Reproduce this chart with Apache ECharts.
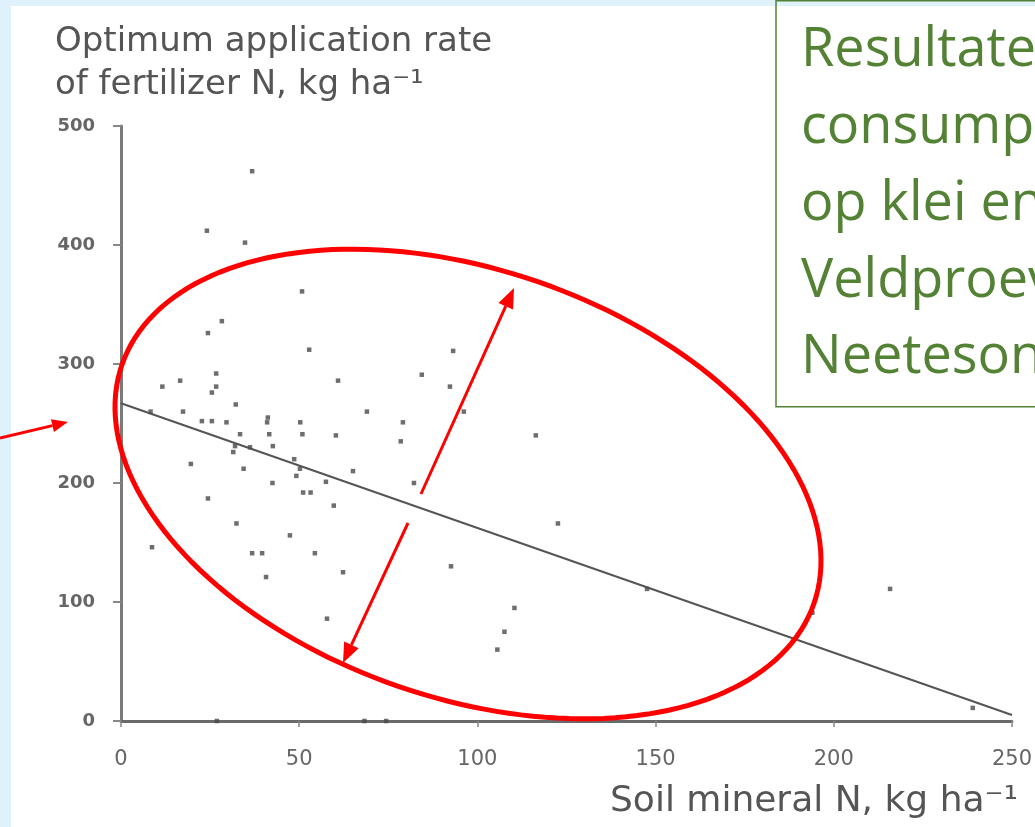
<!DOCTYPE html>
<html><head><meta charset="utf-8">
<script src="https://cdn.jsdelivr.net/npm/echarts@6/dist/echarts.min.js"></script>
<style>html,body{margin:0;padding:0;background:#dff1fb}#c{width:1035px;height:827px}</style>
</head><body><div id="c"></div>
<script>
// ---- data ----
const soilN = [36.8,24.1,34.8,50.8,28.3,24.4,52.8,93.2,11.6,16.6,26.7,26.7,25.5,60.9,84.4,92.3,32.2,69,96.2,17.4,8.3,22.7,25.5,29.6,41.2,41,50.3,79.1,33.4,41.6,50.9,60.3,78.5,32,36.2,31.5,42.6,48.6,50.2,49.2,19.6,34.4,42.5,57.5,65.1,82.2,51.1,53.2,59.7,24.4,32.4,47.4,8.7,36.8,39.6,54.4,62.3,92.6,40.7,57.8,110.4,107.6,105.6,116.4,122.6,215.8,194,239,147.6,26.9,68.3,74.4];
const optN  = [462,412,402,361,336,326,312,311,281,286,292,281,276,286,291,281,266,260,260,260,260,252,252,251,255,251,251,251,241,241,241,240,235,231,230,226,231,220,212,206,216,212,200,201,210,200,192,192,181,187,166,156,146,141,141,141,125,130,121,86,95,75,60,240,166,111,91,11,111,0,0,0];
const fitX = [0, 250];
const fitY = [267, 5];
const xTicks = [0, 50, 100, 150, 200, 250];
const yTicks = [0, 100, 200, 300, 400, 500];
const titleLines = ['Optimum application rate', 'of fertilizer N, kg ha\u207b\u00b9'];
const xName = 'Soil mineral N, kg ha\u207b\u00b9';
const boxLines = ['Resultaten', 'consumptie', 'op klei en', 'Veldproeven', 'Neeteson'];

// ---- build ----
const pts = soilN.map((x, i) => [x, optN[i]]);
const fit = fitX.map((x, i) => [x, fitY[i]]);

function arrow(x1, y1, x2, y2, L, W, color, lw) {
  const dx = x2 - x1, dy = y2 - y1, d = Math.hypot(dx, dy);
  const ux = dx / d, uy = dy / d, nx = -uy, ny = ux;
  const bx = x2 - ux * L, by = y2 - uy * L;
  return [
    {type: 'line', z: 100, shape: {x1: x1, y1: y1, x2: bx, y2: by}, style: {stroke: color, lineWidth: lw}},
    {type: 'polygon', z: 100, shape: {points: [[x2, y2], [bx + nx * W / 2, by + ny * W / 2], [bx - nx * W / 2, by - ny * W / 2]]}, style: {fill: color}}
  ];
}
function ellipsePts(cx, cy, a, b, deg) {
  const t = deg * Math.PI / 180, out = [];
  for (let k = 0; k < 180; k++) {
    const p = k / 180 * 2 * Math.PI;
    const ex = a * Math.cos(p), ey = b * Math.sin(p);
    out.push([cx + ex * Math.cos(t) - ey * Math.sin(t), cy + ex * Math.sin(t) + ey * Math.cos(t)]);
  }
  return out;
}

const FONT = '"DejaVu Sans", sans-serif';
const graphic = [
  {type: 'rect', z: -100, silent: true, shape: {x: 11, y: 6, width: 1040, height: 840}, style: {fill: '#ffffff'}},
  {type: 'rect', z: 100, shape: {x: 776, y: 0.75, width: 300, height: 406}, style: {fill: 'none', stroke: '#548235', lineWidth: 1.5}},
  {type: 'polygon', z: 100, shape: {points: ellipsePts(468, 484, 366, 214, 19)}, style: {fill: 'none', stroke: '#ff0000', lineWidth: 5}}
];
const baselines = [70, 147, 224, 301, 377];
boxLines.forEach((t, i) => {
  graphic.push({type: 'text', z: 100, x: 801, y: baselines[i] - 19,
    style: {text: t, fill: '#548235', font: '54px "Open Sans", sans-serif', verticalAlign: 'middle', align: 'left'}});
});
graphic.push(...arrow(421, 494, 514, 288, 20, 16, '#ff0000', 3));
graphic.push(...arrow(408, 523, 343, 663, 20, 16, '#ff0000', 3));
graphic.push(...arrow(0, 438, 68, 422, 16, 13, '#ff0000', 3));

const chart = echarts.init(document.getElementById('c'));
chart.setOption({
  backgroundColor: '#dff1fb',
  animation: false,
  title: [
    {text: titleLines.join('\n'), left: 50, top: 16,
     textStyle: {fontFamily: FONT, fontSize: 34, fontWeight: 'normal', color: '#555', lineHeight: 43}},
    {text: xName, left: 605, top: 779,
     textStyle: {fontFamily: FONT, fontSize: 36, fontWeight: 'normal', color: '#555', lineHeight: 36}}
  ],
  grid: {left: 121, right: 23, top: 126, bottom: 106},
  xAxis: {type: 'value', min: xTicks[0], max: xTicks[xTicks.length - 1], interval: xTicks[1] - xTicks[0],
    splitLine: {show: false},
    axisLine: {show: true, lineStyle: {color: '#6a6a6a', width: 3}},
    axisTick: {show: true, length: 6, lineStyle: {color: '#888', width: 1.5}},
    axisLabel: {fontFamily: FONT, fontSize: 21, color: '#666', margin: 28}},
  yAxis: {type: 'value', min: yTicks[0], max: yTicks[yTicks.length - 1], interval: yTicks[1] - yTicks[0],
    splitLine: {show: false},
    axisLine: {show: true, lineStyle: {color: '#7a7a7a', width: 3}},
    axisTick: {show: true, length: 8, lineStyle: {color: '#888', width: 2}},
    axisLabel: {fontFamily: FONT, fontSize: 18, fontWeight: 'bold', color: '#666', margin: 26}},
  series: [
    {type: 'line', data: fit, showSymbol: false, silent: true, z: 1,
     lineStyle: {color: '#555', width: 2}},
    {type: 'scatter', data: pts, symbol: 'rect', symbolSize: 4.5, z: 3,
     itemStyle: {color: '#4a4a4a'}}
  ],
  graphic: graphic
});
</script></body></html>
